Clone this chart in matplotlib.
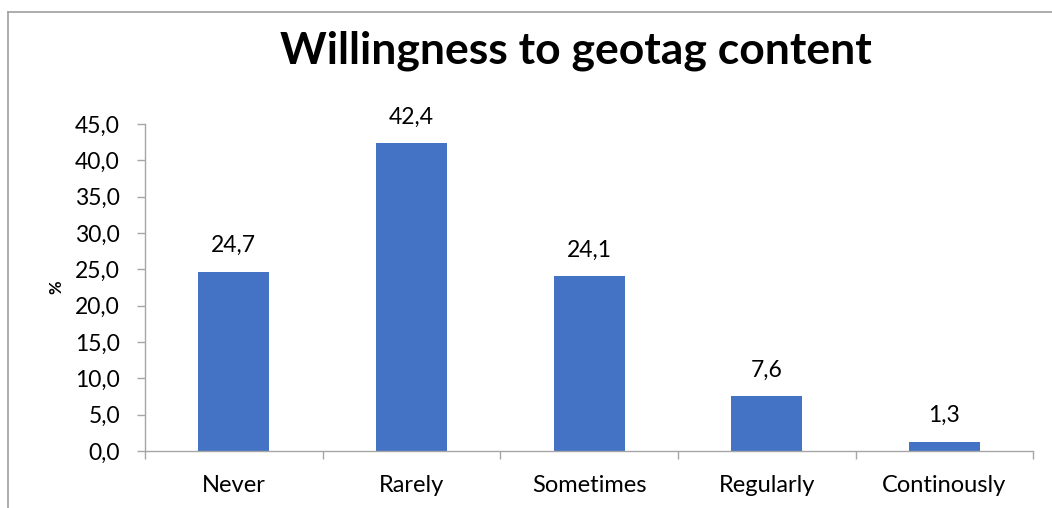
import matplotlib
matplotlib.use('Agg')
import matplotlib.pyplot as plt
from matplotlib.ticker import FixedLocator, FuncFormatter
from matplotlib.lines import Line2D
import numpy as np

categories = ['Never', 'Rarely', 'Sometimes', 'Regularly', 'Continously']
values = [24.7, 42.4, 24.1, 7.6, 1.3]
yticks = [0, 5, 10, 15, 20, 25, 30, 35, 40, 45]

plt.rcParams['font.family'] = ['Lato', 'DejaVu Sans']

bar_color = '#4472C4'
axis_color = '#A6A6A6'

fig = plt.figure(figsize=(10.52, 5.08), dpi=100)
ax = fig.add_axes([0.1378, 0.1122, 0.8443, 0.6437])

x = np.arange(len(categories))
bars = ax.bar(x, values, width=0.4, color=bar_color, zorder=2)

for xi, v in zip(x, values):
    ax.annotate(f'{v:.1f}'.replace('.', ','), (xi, v), xytext=(0, 11),
                textcoords='offset points', ha='center', va='bottom',
                fontsize=16.5, color='black')

ax.set_xlim(-0.5, len(categories) - 0.5)
ax.set_ylim(0, 45)
ax.set_yticks(yticks)
ax.yaxis.set_major_formatter(FuncFormatter(lambda v, p: f'{v:.1f}'.replace('.', ',')))

# category labels centred, tick marks on the boundaries
ax.set_xticks(x)
ax.set_xticklabels(categories)
ax.xaxis.set_minor_locator(FixedLocator(np.arange(-0.5, len(categories), 1.0)))
ax.tick_params(axis='x', which='major', length=0, pad=17, labelsize=17)
ax.tick_params(axis='x', which='minor', length=6, width=1, color=axis_color, direction='out')
ax.tick_params(axis='y', length=6, width=1, color=axis_color, direction='out', pad=12, labelsize=16.5)

for side in ['top', 'right']:
    ax.spines[side].set_visible(False)
for side in ['left', 'bottom']:
    ax.spines[side].set_color(axis_color)
    ax.spines[side].set_linewidth(1)

ax.set_ylabel('%', fontsize=12, fontweight='bold', labelpad=8)

fig.text(0.547, 0.90, 'Willingness to geotag content', ha='center', va='center',
         fontsize=32, fontweight='bold')

# chart-area frame (top and left edges)
fig.add_artist(Line2D([0.0076, 0.0076], [0.0, 0.9764], transform=fig.transFigure,
                      color='#A0A0A0', linewidth=1.2))
fig.add_artist(Line2D([0.0076, 1.0], [0.9764, 0.9764], transform=fig.transFigure,
                      color='#A0A0A0', linewidth=1.2))

fig.savefig('out.png', dpi=100)
